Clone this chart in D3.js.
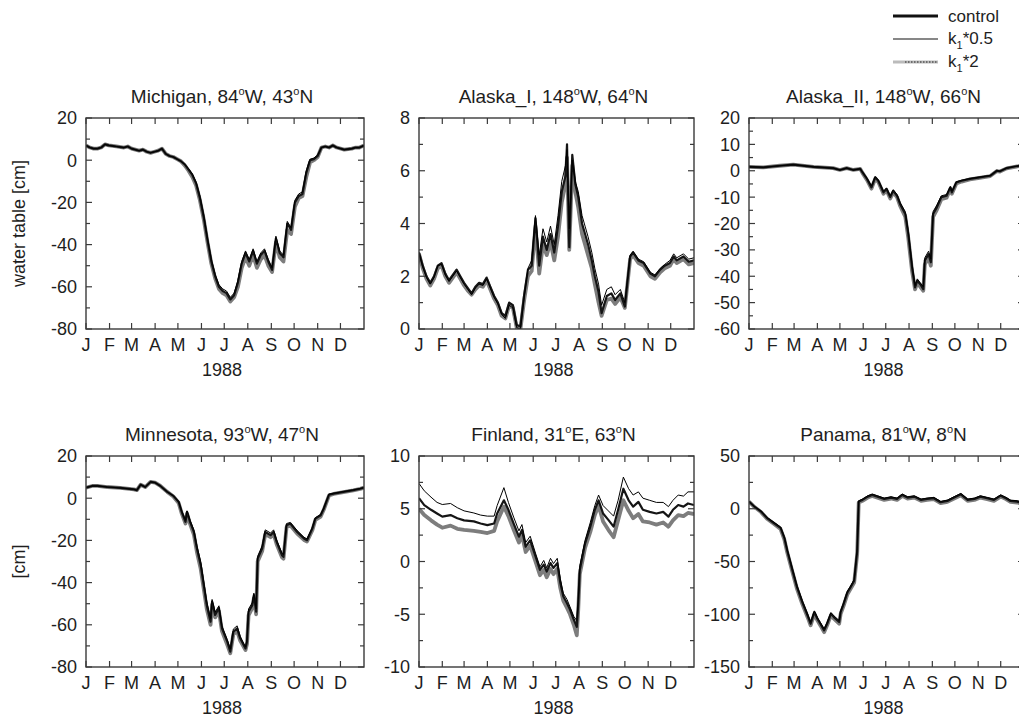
<!DOCTYPE html>
<html>
<head>
<meta charset="utf-8">
<script src="https://cdn.jsdelivr.net/npm/d3@7"></script>
<style>
  body { margin: 0; background: #fff; }
  svg { display: block; font-family: "Liberation Sans", Arial, sans-serif; }
</style>
</head>
<body>
<div id="chart"></div>
<script>
const width = 1019;
const height = 719;

const monthLabels = ["J", "F", "M", "A", "M", "J", "J", "A", "S", "O", "N", "D"];
const seriesNames = ["control", "k1*0.5", "k1*2"];

// day-of-year (1988) and water table values
const michiganDays = [0,5,10,15,20,25,30,40,50,55,60,70,75,80,85,90,95,100,105,110,115,120,125,130,135,140,145,150,155,160,165,170,175,180,185,190,195,200,205,210,215,220,225,230,235,240,245,250,255,260,265,270,275,280,285,290,295,300,305,310,315,320,325,330,340,350,355,360,366];
const michiganControl = [7,6,5.5,5.5,6,7.5,7,6.5,6,6.5,5.5,4.5,5,4,3.5,4,4.5,5.5,3,2,1.5,0.5,-0.5,-2,-4.5,-7,-11,-18,-27,-38,-48,-55,-60,-62,-63,-66,-64,-58,-49,-44,-48,-43,-49,-45,-43,-48,-52,-37,-44,-46,-30,-33,-20,-17,-16,-6,0,0.5,2,6,6.5,6,7,6,5,5.5,6,6,7];
const michiganK05 = [7,6,5.5,5.5,6,7.5,7,6.5,6,6.5,5.5,4.5,5,4,3.5,4,4.5,5.5,3,2,1.5,0.5,-0.5,-2,-4,-6.5,-10.5,-17,-26,-37,-47,-54,-59,-61,-62,-65,-63,-57,-48,-43,-47,-42,-48,-44,-42,-47,-51,-36,-43,-45,-29,-32,-19,-16,-15,-5,0.5,1,2.5,6,6.5,6,7,6,5,5.5,6,6,7];
const michiganK2 = [7,6,5.5,5.5,6,7.5,7,6.5,6,6.5,5.5,4.5,5,4,3.5,4,4.5,5.5,3,2,1.5,0.5,-0.5,-2.5,-5,-8,-12,-19,-28,-39,-49,-56,-61,-63,-64,-67,-65,-60,-51,-46,-50,-45,-51,-47,-45,-50,-53,-39,-46,-48,-33,-35,-22,-18,-17,-8,-1,0,1.5,6,6.5,6,7,6,5,5.5,6,6,7];

const alaska1Days = [0,5,10,15,20,25,30,35,40,45,50,55,60,65,70,75,80,85,90,95,100,105,110,115,120,125,130,135,140,145,150,155,160,165,170,175,180,185,190,195,197,200,204,208,212,217,221,225,230,234,239,243,250,256,261,268,274,281,285,292,299,308,314,321,327,334,339,343,352,359,366];
const alaska1Control = [2.9,2.4,2.0,1.75,2.0,2.4,2.5,2.1,1.85,2.05,2.25,2.0,1.75,1.55,1.35,1.6,1.75,1.7,1.95,1.6,1.25,1.0,0.6,0.5,1.0,0.9,0.15,0.1,1.3,2.25,2.4,4.2,2.4,3.5,3.0,3.6,2.9,3.9,5.2,5.8,7.0,3.1,6.6,5.5,5.0,4.0,3.6,3.2,2.6,2.0,1.4,0.6,1.25,1.35,1.1,1.35,0.85,2.75,2.9,2.6,2.5,2.1,2.0,2.25,2.4,2.5,2.75,2.6,2.75,2.55,2.6];
const alaska1K05 = [2.9,2.35,1.95,1.7,1.95,2.4,2.45,2.05,1.8,2.0,2.2,1.95,1.7,1.5,1.3,1.55,1.7,1.65,1.9,1.55,1.2,0.95,0.55,0.4,0.9,0.8,0.05,0.0,1.2,2.3,2.6,4.3,2.8,3.8,3.3,3.9,3.2,4.3,5.6,6.2,6.8,3.8,6.4,5.6,5.2,4.3,3.9,3.5,2.9,2.3,1.7,0.9,1.5,1.6,1.3,1.5,1.0,2.8,2.95,2.65,2.55,2.15,2.05,2.3,2.45,2.6,2.85,2.7,2.85,2.65,2.7];
const alaska1K2 = [2.85,2.3,1.9,1.65,1.9,2.3,2.4,2.0,1.75,1.95,2.15,1.9,1.65,1.45,1.3,1.5,1.65,1.6,1.85,1.5,1.15,0.9,0.5,0.4,0.9,0.8,0.05,0.0,1.1,2.0,2.2,3.9,2.1,3.2,2.8,3.3,2.6,3.5,4.8,5.5,6.5,3.0,6.2,5.2,4.6,3.6,3.2,2.8,2.3,1.7,1.0,0.5,1.1,1.15,0.95,1.2,0.8,2.65,2.8,2.5,2.4,2.0,1.9,2.15,2.3,2.4,2.65,2.5,2.65,2.45,2.5];

const alaska2Days = [0,19,41,59,86,112,121,130,139,148,151,157,163,168,172,179,183,188,192,197,201,208,212,217,221,224,228,232,234,239,242,245,250,256,263,268,270,276,283,294,307,321,330,334,343,352,360,366];
const alaska2Control = [1.5,1.3,1.9,2.3,1.5,1.0,0.3,1.0,0.3,0.7,-0.6,-3.1,-6.3,-2.5,-3.8,-8.2,-6.9,-10,-7.6,-9.5,-12.6,-16.4,-24,-36.6,-44.2,-41.7,-43,-44.9,-34,-31.6,-34.7,-16.4,-13.9,-10,-9.5,-6.3,-8.2,-4.4,-3.8,-3.1,-2.5,-1.9,0,-0.2,1,1.5,1.9,2.0];
const alaska2K05 = [1.5,1.3,1.9,2.3,1.5,1.0,0.3,1.0,0.3,0.7,-0.4,-2.8,-5.8,-2.2,-3.5,-7.8,-6.5,-9.5,-7.2,-9.0,-12.0,-15.5,-23,-35.5,-43.5,-41,-42.5,-44,-33,-30.5,-33.5,-15.5,-13,-9.5,-9,-6,-7.8,-4.2,-3.6,-3.0,-2.4,-1.8,0,-0.2,1,1.5,1.9,2.0];
const alaska2K2 = [1.5,1.3,1.9,2.3,1.5,1.0,0.3,1.0,0.3,0.7,-0.8,-3.5,-6.8,-3.0,-4.2,-8.7,-7.4,-10.5,-8.2,-10,-13.2,-17.4,-25.5,-38,-45,-42.5,-44,-45.5,-35.5,-33,-36,-17.5,-14.8,-10.8,-10.2,-6.8,-8.7,-4.8,-4.1,-3.3,-2.7,-2.0,-0.1,-0.3,0.9,1.4,1.8,2.0];

const minnesotaDays = [0,8,15,28,45,63,67,72,78,85,91,98,107,115,122,126,131,133,137,142,146,151,155,159,164,166,170,175,179,186,190,194,199,203,210,212,214,219,221,224,226,232,236,243,247,251,258,260,264,269,278,287,291,298,302,309,313,320,326,339,352,361,366];
const minnesotaControl = [5.0,5.8,5.8,5.3,4.9,4.2,3.8,6.4,5.3,7.7,7.4,5.8,3.0,1.1,-1.8,-6.5,-11.2,-6.5,-11.2,-16,-23.8,-31.7,-41.2,-50.7,-58.5,-49,-55.3,-52,-61.7,-68,-72.7,-63.3,-61.7,-66.4,-71.2,-68,-53.8,-50.7,-45.9,-53.8,-28.6,-23.8,-16,-17.5,-16,-20.7,-27,-27.8,-12.8,-12,-16,-19.1,-19.9,-14.4,-9.7,-8.1,-5,1.7,2.2,3.0,3.8,4.5,5.0];
const minnesotaK05 = [5.0,5.8,5.8,5.3,4.9,4.2,3.8,6.4,5.3,7.7,7.4,5.8,3.0,1.1,-1.5,-6,-10.5,-6,-10.5,-15,-22.5,-30,-39.5,-49,-57,-48,-54,-51,-60.5,-67,-71.5,-62,-60.5,-65.5,-70.5,-67,-52.5,-49.5,-45,-52.5,-27.5,-22.5,-15,-16.5,-15,-19.8,-26,-26.8,-12,-11.5,-15.3,-18.5,-19.3,-13.8,-9.2,-7.7,-4.6,1.9,2.3,3.1,3.9,4.6,5.0];
const minnesotaK2 = [5.0,5.8,5.8,5.3,4.9,4.2,3.8,6.4,5.3,7.7,7.4,5.8,3.0,0.8,-2.3,-7.2,-12,-7.3,-12.2,-17.2,-25.5,-33.5,-43,-52.5,-60,-50.5,-56.5,-53.5,-63,-69.5,-73.5,-64.5,-63,-67.5,-72,-69,-55.5,-52,-47.5,-55,-30,-25,-17,-18.5,-17,-21.8,-28,-28.7,-13.8,-12.8,-16.8,-19.8,-20.5,-15.2,-10.3,-8.7,-5.5,1.3,2.0,2.9,3.7,4.4,5.0];

const finlandDays = [0,7,16,24,31,42,51,60,73,82,91,100,104,113,119,126,133,137,142,148,155,161,166,170,175,179,184,188,192,197,201,206,210,212,214,221,228,234,239,245,252,259,265,272,279,285,292,298,307,316,325,332,338,345,352,358,366];
const finlandControl = [6.0,5.35,4.9,4.55,4.25,4.4,4.1,3.9,3.8,3.6,3.45,3.6,4.55,5.8,4.9,3.6,2.35,3.0,1.4,2.0,0.5,-0.8,-0.3,-0.95,-0.15,-0.6,-0.15,-2.0,-3.3,-3.95,-4.55,-5.5,-6.2,-3.95,-0.8,1.7,3.3,4.9,5.8,4.55,3.95,3.3,4.9,6.9,5.8,5.2,5.65,4.9,4.7,4.55,4.7,4.25,4.9,5.35,5.2,5.5,5.35];
const finlandK05 = [7.4,6.7,6.1,5.6,5.4,5.5,5.1,4.8,4.6,4.4,4.3,4.3,5.3,7.0,5.6,4.2,2.9,3.5,1.8,2.4,0.8,-0.5,0.1,-0.6,0.3,-0.2,0.3,-1.6,-3.0,-3.6,-4.3,-5.2,-5.6,-3.6,-0.4,2.0,3.7,5.3,6.3,5.3,4.8,4.3,5.8,8.0,6.9,6.3,6.6,6.0,5.8,5.6,5.6,5.2,5.8,6.3,6.2,6.6,6.6];
const finlandK2 = [5.0,4.4,3.9,3.5,3.2,3.4,3.1,3.0,2.9,2.8,2.7,2.9,3.8,5.2,4.3,3.0,1.8,2.5,0.9,1.5,0.0,-1.3,-0.8,-1.5,-0.7,-1.2,-0.7,-2.5,-3.7,-4.4,-5.0,-6.0,-7.0,-4.5,-1.2,1.3,2.8,4.4,5.3,3.8,3.0,2.3,3.9,5.8,4.8,4.1,4.5,3.8,3.7,3.5,3.7,3.3,3.9,4.4,4.3,4.6,4.5];

const panamaDays = [0,7,16,24,33,42,47,51,58,64,71,78,82,87,91,95,100,104,109,113,120,122,126,131,135,140,144,146,151,158,164,171,180,189,197,204,211,220,229,237,246,255,264,273,282,291,300,308,317,326,335,342,348,357,366];
const panamaControl = [6.8,2.1,-2.6,-8.8,-13.5,-18.2,-27.6,-40.1,-58.9,-74.6,-88.7,-101.2,-109,-98,-104.3,-109,-115.3,-109,-99.6,-102.7,-107.4,-98,-90.2,-79.3,-74.6,-68.3,-40.1,6.8,8.4,11.5,13.1,11.5,9.3,10.6,9.3,13.1,10.6,11.5,8.4,9.3,10,6.2,7.4,10.6,13.7,8.4,9.3,11.5,10,8.4,12.4,10,7.4,6.8,5.2];
const panamaK05 = [6.8,2.3,-2.2,-8.2,-12.8,-17.3,-26.5,-38.8,-57.5,-73.2,-87.2,-99.8,-107.5,-96.8,-103,-107.8,-113.8,-107.7,-98.4,-101.5,-106,-96.8,-89,-78,-73.4,-67,-38,7.5,9.2,12.3,14,12.3,10.1,11.4,10.1,14,11.4,12.3,9.2,10.1,10.8,7,8.2,11.4,14.5,9.2,10.1,12.3,10.8,9.2,13.2,10.8,8.2,7.6,6];
const panamaK2 = [6.8,1.8,-3.2,-9.5,-14.3,-19.3,-29,-41.8,-60.5,-76.2,-90.3,-102.8,-110.5,-99.5,-105.8,-110.6,-117,-110.5,-101,-104.2,-109,-99.5,-91.8,-81,-76.2,-70,-43,5.8,7.5,10.6,12.2,10.6,8.4,9.7,8.4,12.2,9.7,10.6,7.5,8.4,9.1,5.3,6.5,9.7,12.8,7.5,8.4,10.6,9.1,7.5,11.5,9.1,6.5,5.9,4.3];

const panels = [
    { name: "Michigan", lon: "84", ew: "W", lat: "43", ns: "N", days: michiganDays, values: [michiganControl, michiganK05, michiganK2], domain: [-80, 20], major: 20, minor: 10, col: 0, row: 0, ylabel: "water table [cm]" },
    { name: "Alaska_I", lon: "148", ew: "W", lat: "64", ns: "N", days: alaska1Days, values: [alaska1Control, alaska1K05, alaska1K2], domain: [0, 8], major: 2, minor: 1, col: 1, row: 0 },
    { name: "Alaska_II", lon: "148", ew: "W", lat: "66", ns: "N", days: alaska2Days, values: [alaska2Control, alaska2K05, alaska2K2], domain: [-60, 20], major: 10, minor: 5, col: 2, row: 0 },
    { name: "Minnesota", lon: "93", ew: "W", lat: "47", ns: "N", days: minnesotaDays, values: [minnesotaControl, minnesotaK05, minnesotaK2], domain: [-80, 20], major: 20, minor: 10, col: 0, row: 1, ylabel: "[cm]" },
    { name: "Finland", lon: "31", ew: "E", lat: "63", ns: "N", days: finlandDays, values: [finlandControl, finlandK05, finlandK2], domain: [-10, 10], major: 5, minor: 2.5, col: 1, row: 1 },
    { name: "Panama", lon: "81", ew: "W", lat: "8", ns: "N", days: panamaDays, values: [panamaControl, panamaK05, panamaK2], domain: [-150, 50], major: 50, minor: 25, col: 2, row: 1 }
];

const colX = [86, 419, 749];
const colW = [278, 275, 275];
const rowY = [118, 456];
const plotH = 211;

// drawn gray first, then control, then thin k1*0.5
const lineStyle = {
    "k1*2": { stroke: "#7d7d7d", width: 3.8 },
    "control": { stroke: "#151515", width: 2.2 },
    "k1*0.5": { stroke: "#000", width: 1 }
};
const drawOrder = [2, 0, 1];

const t0 = Date.UTC(1988, 0, 1);
const dayToDate = d => new Date(t0 + d * 864e5);
const monthStarts = d3.utcMonth.range(new Date(t0), new Date(Date.UTC(1989, 0, 1)));

const svg = d3.select("#chart").append("svg")
    .attr("width", width)
    .attr("height", height)
    .attr("viewBox", [0, 0, width, height]);

const textColor = "#1e1e1e";
const frameColor = "#3a3a3a";
const fontSize = 18;

panels.forEach((p, i) => {
    const left = colX[p.col], top = rowY[p.row];
    const w = colW[p.col], h = plotH;

    const x = d3.scaleUtc()
        .domain([new Date(t0), new Date(Date.UTC(1989, 0, 1))])
        .range([left, left + w]);
    const y = d3.scaleLinear()
        .domain(p.domain)
        .range([top + h, top]);

    const g = svg.append("g");

    g.append("clipPath")
        .attr("id", "clip" + i)
        .append("rect")
        .attr("x", left).attr("y", top)
        .attr("width", w).attr("height", h);

    // title with raised degree signs
    const title = g.append("text")
        .attr("x", left + w / 2 - 3)
        .attr("y", top - 15)
        .attr("text-anchor", "middle")
        .attr("font-size", 19)
        .attr("fill", textColor);
    title.append("tspan").text(`${p.name}, ${p.lon}`);
    title.append("tspan").attr("font-size", 11).attr("dy", -8).text("o");
    title.append("tspan").attr("dy", 8).text(`${p.ew}, ${p.lat}`);
    title.append("tspan").attr("font-size", 11).attr("dy", -8).text("o");
    title.append("tspan").attr("dy", 8).text(p.ns);

    // series
    const line = d3.line()
        .x((d, k) => x(dayToDate(p.days[k])))
        .y(d => y(d));

    const lines = g.append("g").attr("clip-path", `url(#clip${i})`);
    drawOrder.forEach(s => {
        const st = lineStyle[seriesNames[s]];
        lines.append("path")
            .datum(p.values[s])
            .attr("fill", "none")
            .attr("stroke", st.stroke)
            .attr("stroke-width", st.width)
            .attr("stroke-linejoin", "round")
            .attr("d", line);
    });

    // y ticks: minor and major, inside on both sides
    const yTicks = d3.range(p.domain[0], p.domain[1] + p.minor / 2, p.minor);
    const isMajor = v => Math.abs(v / p.major - Math.round(v / p.major)) < 1e-6;
    const tickG = g.append("g").attr("stroke", frameColor).attr("stroke-width", 1.2);
    yTicks.forEach(v => {
        const len = isMajor(v) ? 6 : 4;
        tickG.append("line").attr("x1", left).attr("x2", left + len).attr("y1", y(v)).attr("y2", y(v));
        tickG.append("line").attr("x1", left + w).attr("x2", left + w - len).attr("y1", y(v)).attr("y2", y(v));
    });
    monthStarts.forEach(m => {
        tickG.append("line").attr("x1", x(m)).attr("x2", x(m)).attr("y1", top + h).attr("y2", top + h - 6);
        tickG.append("line").attr("x1", x(m)).attr("x2", x(m)).attr("y1", top).attr("y2", top + 6);
    });

    g.append("rect")
        .attr("x", left).attr("y", top)
        .attr("width", w).attr("height", h)
        .attr("fill", "none")
        .attr("stroke", frameColor)
        .attr("stroke-width", 1.4);

    // y labels
    g.append("g")
        .attr("font-size", fontSize)
        .attr("fill", textColor)
        .attr("text-anchor", "end")
        .selectAll("text")
        .data(yTicks.filter(isMajor))
        .join("text")
        .attr("x", left - 9)
        .attr("y", d => y(d))
        .attr("dy", "0.36em")
        .text(d => String(d));

    // month labels
    g.append("g")
        .attr("font-size", fontSize)
        .attr("fill", textColor)
        .attr("text-anchor", "middle")
        .selectAll("text")
        .data(monthStarts)
        .join("text")
        .attr("x", d => x(d))
        .attr("y", top + h + 22)
        .text((d, k) => monthLabels[k]);

    g.append("text")
        .attr("x", left + w / 2 - 3)
        .attr("y", top + h + 47)
        .attr("text-anchor", "middle")
        .attr("font-size", fontSize)
        .attr("fill", textColor)
        .text("1988");

    if (p.ylabel) {
        g.append("text")
            .attr("transform", `translate(25,${top + h / 2}) rotate(-90)`)
            .attr("text-anchor", "middle")
            .attr("font-size", fontSize)
            .attr("fill", textColor)
            .text(p.ylabel);
    }
});

// legend
const legend = svg.append("g").attr("font-size", 17).attr("fill", textColor);
const legendY = [16, 39, 62];
const lx0 = 893, lx1 = 938;

legend.append("line").attr("x1", lx0).attr("x2", lx1).attr("y1", legendY[0]).attr("y2", legendY[0])
    .attr("stroke", "#111").attr("stroke-width", 3);
legend.append("line").attr("x1", lx0).attr("x2", lx1).attr("y1", legendY[1]).attr("y2", legendY[1])
    .attr("stroke", "#111").attr("stroke-width", 1.2);
legend.append("line").attr("x1", lx0).attr("x2", lx1).attr("y1", legendY[2]).attr("y2", legendY[2])
    .attr("stroke", "#bbb").attr("stroke-width", 3);
legend.append("line").attr("x1", lx0 + 12).attr("x2", lx1).attr("y1", legendY[2]).attr("y2", legendY[2])
    .attr("stroke", "#555").attr("stroke-width", 1.5).attr("stroke-dasharray", "1.5 1.5");

legend.append("text").attr("x", 948).attr("y", legendY[0] + 6).text(seriesNames[0]);
[1, 2].forEach(s => {
    const [base, mult] = seriesNames[s].split("1");
    const t = legend.append("text").attr("x", 948).attr("y", legendY[s] + 5);
    t.append("tspan").text(base);
    t.append("tspan").attr("font-size", 11).attr("dy", 5).text("1");
    t.append("tspan").attr("dy", -5).text(mult);
});
</script>
</body>
</html>
